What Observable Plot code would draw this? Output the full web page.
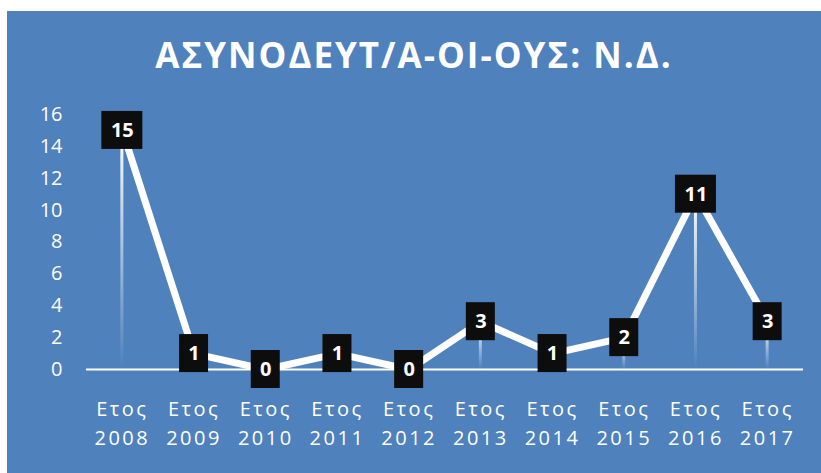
<!DOCTYPE html>
<html>
<head>
<meta charset="utf-8">
<script src="https://cdn.jsdelivr.net/npm/d3@7"></script>
<script src="https://cdn.jsdelivr.net/npm/@observablehq/plot@0.6"></script>
<style>
  html, body { margin: 0; padding: 0; background: #ffffff; }
  #panel { position: absolute; left: 7px; top: 11px; width: 814px; height: 462px; background: #4F81BD; overflow: hidden; }
  #title { height: 80px; box-sizing: border-box; padding-top: 24px; text-align: center; color: #ffffff;
           font-family: "Open Sans", sans-serif; font-weight: 700; font-size: 35px; line-height: 40px; letter-spacing: 2px; }
  #chart svg { display: block; }
</style>
</head>
<body>
<svg width="0" height="0" style="position:absolute">
  <defs>
    <linearGradient id="drop" x1="0" y1="0" x2="0" y2="1">
      <stop offset="0" stop-color="#ffffff" stop-opacity="1"/>
      <stop offset="1" stop-color="#ffffff" stop-opacity="0"/>
    </linearGradient>
  </defs>
</svg>
<div id="panel">
  <div id="title">ΑΣΥΝΟΔΕΥΤ/Α-ΟΙ-ΟΥΣ: Ν.Δ.</div>
  <div id="chart"></div>
</div>
<script>
const years = [2008, 2009, 2010, 2011, 2012, 2013, 2014, 2015, 2016, 2017];
const values = [15, 1, 0, 1, 0, 3, 1, 2, 11, 3];
const yTicks = [0, 2, 4, 6, 8, 10, 12, 14, 16];
const xPrefix = "Ετος";

const data = years.map((year, i) => ({year, value: values[i]}));
const oneDigit = data.filter(d => String(d.value).length === 1);
const twoDigit = data.filter(d => String(d.value).length > 1);

const chart = Plot.plot({
  width: 814,
  height: 382,
  marginTop: 23,
  marginBottom: 104,
  marginLeft: 79,
  marginRight: 18,
  style: {background: "transparent", color: "#ffffff", fontFamily: "'Open Sans', sans-serif"},
  x: {domain: [2007.5, 2017.5], axis: null},
  y: {domain: [0, 16], axis: null},
  marks: [
    Plot.rectY(data.filter(d => d.value > 0), {x1: "year", x2: "year", y1: 0, y2: "value", insetLeft: -1.5, insetRight: -1.5, fill: "url(#drop)"}),
    Plot.ruleY([0], {stroke: "#ffffff", strokeWidth: 2}),
    Plot.line(data, {x: "year", y: "value", stroke: "#ffffff", strokeWidth: 7, strokeLinejoin: "round", strokeLinecap: "butt"}),
    Plot.rect(oneDigit, {x1: "year", x2: "year", y1: "value", y2: "value", insetLeft: -14.5, insetRight: -14.5, insetTop: -19, insetBottom: -19, fill: "#0D0D0D"}),
    Plot.rect(twoDigit, {x1: "year", x2: "year", y1: "value", y2: "value", insetLeft: -20.5, insetRight: -20.5, insetTop: -19, insetBottom: -19, fill: "#0D0D0D"}),
    Plot.text(data, {x: "year", y: "value", text: d => String(d.value), fill: "#ffffff", fontWeight: 700, fontSize: 20}),
    Plot.axisY(yTicks, {tickSize: 0, tickPadding: 24, fontSize: 20, fill: "#ffffff", label: null}),
    Plot.text(years, {x: d => d, frameAnchor: "bottom", lineAnchor: "top", dy: 26, text: d => xPrefix + "\n" + d, fontSize: 20, lineHeight: 1.45, fill: "#ffffff"})
  ]
});
d3.select(chart).selectAll("text")
  .filter(function() { return this.textContent.startsWith(xPrefix); })
  .style("letter-spacing", "2.5px");
document.getElementById("chart").appendChild(chart);
</script>
</body>
</html>
